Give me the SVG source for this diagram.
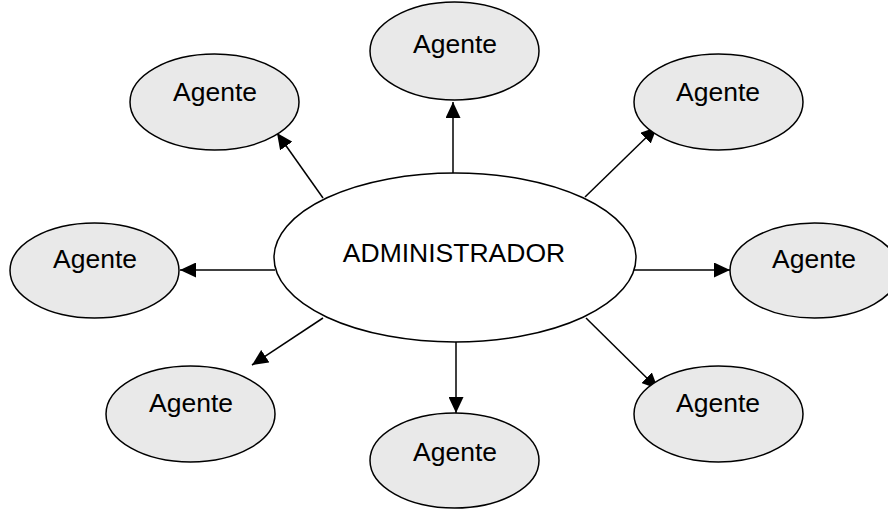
<svg xmlns="http://www.w3.org/2000/svg" width="888" height="509" viewBox="0 0 888 509">
<style>
.agent{fill:#e9e9e9;stroke:#000;stroke-width:1.5}
.admin{fill:#fff;stroke:#000;stroke-width:1.5}
.lbl{font-family:"Liberation Sans",Arial,sans-serif;font-size:26.5px;fill:#000;text-anchor:middle}
.conn{stroke:#000;stroke-width:1.5;fill:none;marker-end:url(#arr)}
</style>
<defs>
<marker id="arr" markerUnits="userSpaceOnUse" markerWidth="16" markerHeight="15" viewBox="0 0 16 15" refX="16" refY="7.5" orient="auto">
<path d="M0,0 L16,7.5 L0,15 Z" fill="#000"/>
</marker>
</defs>
<rect width="888" height="509" fill="#fff"/>
<g id="connectors">
<line class="conn" x1="453" y1="173" x2="453" y2="102"/>
<line class="conn" x1="323" y1="198" x2="277" y2="133"/>
<line class="conn" x1="585" y1="197" x2="657" y2="127"/>
<line class="conn" x1="275" y1="270" x2="180" y2="270"/>
<line class="conn" x1="634" y1="270" x2="730" y2="270"/>
<line class="conn" x1="323" y1="318" x2="252" y2="365"/>
<line class="conn" x1="456" y1="342" x2="456" y2="413"/>
<line class="conn" x1="586" y1="318" x2="658" y2="389"/>
</g>
<g id="admin">
<ellipse class="admin" cx="455" cy="257.5" rx="181" ry="84.5"/>
<text class="lbl" x="454" y="262">ADMINISTRADOR</text>
</g>
<g id="agent-top">
<ellipse class="agent" cx="454.5" cy="51" rx="84.5" ry="49"/>
<text class="lbl" x="455" y="53">Agente</text>
</g>
<g id="agent-topleft">
<ellipse class="agent" cx="214.5" cy="102" rx="84.5" ry="48"/>
<text class="lbl" x="215" y="101">Agente</text>
</g>
<g id="agent-topright">
<ellipse class="agent" cx="718.5" cy="102" rx="84.5" ry="48"/>
<text class="lbl" x="718" y="101">Agente</text>
</g>
<g id="agent-left">
<ellipse class="agent" cx="94.5" cy="270.5" rx="84.5" ry="47.5"/>
<text class="lbl" x="95" y="268">Agente</text>
</g>
<g id="agent-right">
<ellipse class="agent" cx="814.5" cy="270.5" rx="84.5" ry="47.5"/>
<text class="lbl" x="814" y="268">Agente</text>
</g>
<g id="agent-bottomleft">
<ellipse class="agent" cx="190.5" cy="414" rx="84.5" ry="48"/>
<text class="lbl" x="191" y="412">Agente</text>
</g>
<g id="agent-bottom">
<ellipse class="agent" cx="454.5" cy="460.5" rx="84.5" ry="47.5"/>
<text class="lbl" x="455" y="461">Agente</text>
</g>
<g id="agent-bottomright">
<ellipse class="agent" cx="718.5" cy="414" rx="84.5" ry="48"/>
<text class="lbl" x="718" y="412">Agente</text>
</g>
</svg>
